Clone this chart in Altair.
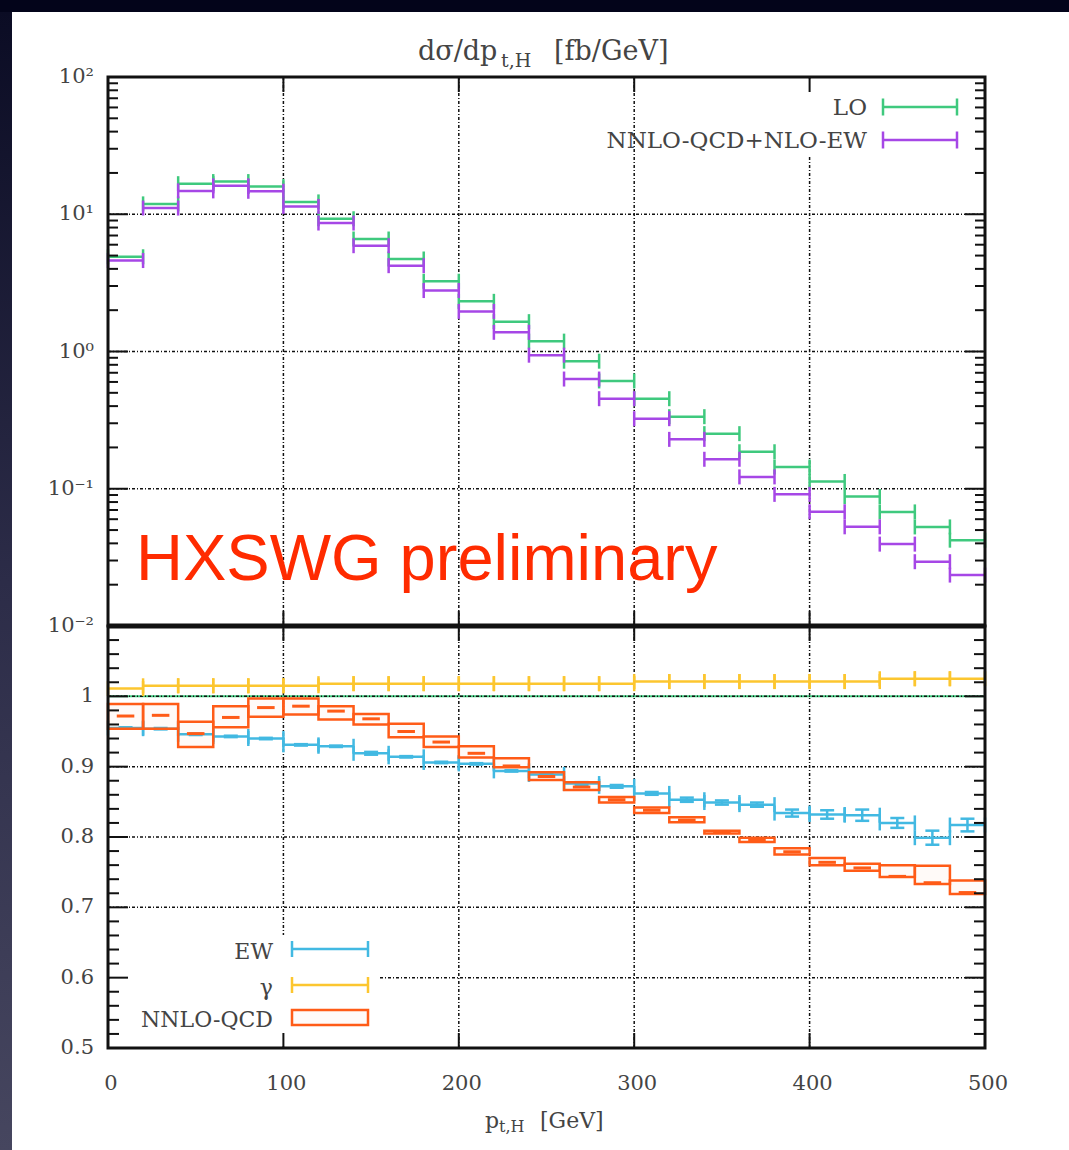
import altair as alt
import pandas as pd

# ---------------- data ----------------
bin_lo = [0, 20, 40, 60, 80, 100, 120, 140, 160, 180, 200, 220, 240,
          260, 280, 300, 320, 340, 360, 380, 400, 420, 440, 460, 480]
bin_hi = [20, 40, 60, 80, 100, 120, 140, 160, 180, 200, 220, 240, 260,
          280, 300, 320, 340, 360, 380, 400, 420, 440, 460, 480, 500]

lo_xs = [4.9, 11.9, 16.7, 17.3, 15.9, 12.3, 9.27, 6.6, 4.72, 3.25, 2.32, 1.65, 1.19,
         0.85, 0.61, 0.453, 0.335, 0.252, 0.186, 0.144, 0.113, 0.0877, 0.0678, 0.0527, 0.0422]
nnlo_xs = [4.6, 11.1, 14.8, 16.1, 14.7, 11.4, 8.63, 5.9, 4.22, 2.78, 1.96, 1.38, 0.94,
           0.63, 0.453, 0.324, 0.229, 0.164, 0.122, 0.091, 0.068, 0.0528, 0.0395, 0.0294, 0.0235]

ew_ratio = [0.955, 0.954, 0.946, 0.943, 0.940, 0.931, 0.929, 0.919, 0.914, 0.906, 0.904, 0.894, 0.889,
            0.876, 0.872, 0.862, 0.853, 0.849, 0.846, 0.834, 0.832, 0.831, 0.820, 0.799, 0.817]
ew_err = [0.001, 0.001, 0.001, 0.001, 0.001, 0.001, 0.001, 0.002, 0.001, 0.001, 0.001, 0.001, 0.002,
          0.002, 0.002, 0.002, 0.003, 0.003, 0.003, 0.005, 0.006, 0.008, 0.007, 0.010, 0.009]
gamma_ratio = [1.011, 1.015, 1.015, 1.015, 1.015, 1.015, 1.018, 1.018, 1.018, 1.018, 1.018, 1.018, 1.018,
               1.018, 1.018, 1.021, 1.021, 1.021, 1.021, 1.021, 1.021, 1.021, 1.025, 1.025, 1.025]
qcd_low = [0.954, 0.954, 0.928, 0.956, 0.971, 0.974, 0.967, 0.960, 0.942, 0.928, 0.913, 0.899, 0.881,
           0.867, 0.849, 0.834, 0.821, 0.805, 0.793, 0.775, 0.760, 0.752, 0.743, 0.733, 0.719]
qcd_high = [0.989, 0.989, 0.964, 0.986, 0.997, 0.997, 0.986, 0.975, 0.961, 0.943, 0.929, 0.912, 0.892,
            0.878, 0.857, 0.842, 0.828, 0.809, 0.799, 0.784, 0.770, 0.762, 0.760, 0.759, 0.738]
qcd_central = [0.972, 0.973, 0.947, 0.970, 0.984, 0.986, 0.979, 0.968, 0.950, 0.935, 0.919, 0.901, 0.886,
               0.871, 0.853, 0.838, 0.824, 0.807, 0.796, 0.779, 0.764, 0.756, 0.744, 0.735, 0.721]

x_ticks = [0, 100, 200, 300, 400, 500]
x_tick_labels = ["0", "100", "200", "300", "400", "500"]
top_tick_vals = [0.01, 0.1, 1, 10, 100]
top_tick_labels = ["10\u207b\u00b2", "10\u207b\u00b9", "10\u2070", "10\u00b9", "10\u00b2"]
bot_tick_vals = [0.5, 0.6, 0.7, 0.8, 0.9, 1.0]
bot_tick_labels = ["0.5", "0.6", "0.7", "0.8", "0.9", "1"]

# ---------------- style ----------------
W, H, HT = 877, 971, 549
GREEN, PURPLE = "#3fc97e", "#a647e6"
CYAN, YELLOW, ORANGE = "#42b9e2", "#fcc62f", "#ff5b17"
RED, TXT, INK = "#ff2b00", "#444444", "#111111"
FONT = "DejaVu Serif"
LW = 2.5
GRID = dict(color=INK, strokeWidth=1.5, strokeDash=[3, 2, 1, 2])

xs = alt.Scale(domain=[0, 500], nice=False, zero=False)
yt = alt.Scale(type="log", domain=[0.01, 100], range=[HT, 0], nice=False)
yb = alt.Scale(domain=[0.5, 1.1], range=[H, HT], nice=False, zero=False)


def X(f):
    return alt.X(f, type="quantitative", scale=xs, axis=None)


def YT(f):
    return alt.Y(f, type="quantitative", scale=yt, axis=None)


def YB(f):
    return alt.Y(f, type="quantitative", scale=yb, axis=None)


df = pd.DataFrame({
    "lo": bin_lo, "hi": bin_hi, "LO": lo_xs, "NNLO": nnlo_xs,
    "ew": ew_ratio, "ew_err": ew_err, "gam": gamma_ratio,
    "qlo": qcd_low, "qhi": qcd_high, "qc": qcd_central,
})
base = alt.Chart(df).transform_calculate(
    mid="(datum.lo + datum.hi) / 2",
    cl="(datum.lo + datum.hi) / 2 - 5",
    cr="(datum.lo + datum.hi) / 2 + 5",
    ew_dn="datum.ew - datum.ew_err",
    ew_up="datum.ew + datum.ew_err",
)
one = alt.Chart(pd.DataFrame({"k": [0]}))

layers = []

# page frame (dark border + white sheet)
layers.append(one.mark_rect(color=alt.Gradient(
    gradient="linear",
    stops=[alt.GradientStop(color="#0b0c24", offset=0),
           alt.GradientStop(color="#2c2c48", offset=0.5),
           alt.GradientStop(color="#46465f", offset=1)],
    x1=0, x2=0, y1=0, y2=1)).encode(
    x=alt.value(-108), x2=alt.value(-96), y=alt.value(-65), y2=alt.value(1073)))
layers.append(one.mark_rect(color="white").encode(
    x=alt.value(-96), x2=alt.value(961), y=alt.value(-65), y2=alt.value(1073)))

# grid
layers.append(alt.Chart(pd.DataFrame({"v": [100, 200, 300, 400]})).mark_rule(**GRID).encode(
    x=X("v"), y=alt.value(0), y2=alt.value(H)))
layers.append(alt.Chart(pd.DataFrame({"v": [0.1, 1, 10]})).mark_rule(**GRID).encode(
    y=YT("v"), x=alt.value(0), x2=alt.value(W)))
layers.append(alt.Chart(pd.DataFrame({"v": [1.0]})).mark_rule(color=GREEN, strokeWidth=2).encode(
    y=YB("v"), x=alt.value(0), x2=alt.value(W)))
layers.append(alt.Chart(pd.DataFrame({"v": [0.6, 0.7, 0.8, 0.9, 1.0]})).mark_rule(**GRID).encode(
    y=YB("v"), x=alt.value(0), x2=alt.value(W)))

# legend masks
layers.append(one.mark_rect(color="white").encode(
    x=alt.value(542), x2=alt.value(868), y=alt.value(2), y2=alt.value(78)))
layers.append(one.mark_rect(color="white").encode(
    x=alt.value(2), x2=alt.value(272), y=alt.value(858), y2=alt.value(969)))


def steps(field, color, yenc, cap):
    out = [base.mark_rule(color=color, strokeWidth=LW).encode(x=X("lo"), x2=alt.X2("hi"), y=yenc(field))]
    for edge in ("lo", "hi"):
        out.append(base.mark_tick(color=color, orient="vertical", size=cap, thickness=LW, opacity=1).encode(
            x=X(edge), y=yenc(field)))
    return out


# top panel data
layers += steps("LO", GREEN, YT, 15)
layers += steps("NNLO", PURPLE, YT, 15)

# bottom panel data
layers += steps("ew", CYAN, YB, 15)
layers.append(base.mark_rule(color=CYAN, strokeWidth=LW).encode(x=X("mid"), y=YB("ew_dn"), y2=alt.Y2("ew_up")))
for f in ("ew_dn", "ew_up"):
    layers.append(base.mark_tick(color=CYAN, orient="horizontal", size=14, thickness=LW, opacity=1).encode(
        x=X("mid"), y=YB(f)))
layers += steps("gam", YELLOW, YB, 15)
layers.append(base.mark_rect(fill=ORANGE, fillOpacity=0.03, stroke=ORANGE, strokeWidth=LW).encode(
    x=X("lo"), x2=alt.X2("hi"), y=YB("qlo"), y2=alt.Y2("qhi")))
layers.append(base.mark_rule(color=ORANGE, strokeWidth=3).encode(x=X("cl"), x2=alt.X2("cr"), y=YB("qc")))

# ticks (inward)
top_minor = [m * 10.0 ** e for e in (-2, -1, 0, 1) for m in range(2, 10)]
bot_major = [0.5, 0.6, 0.7, 0.8, 0.9, 1.0, 1.1]
bot_minor = [0.52, 0.54, 0.56, 0.58, 0.62, 0.64, 0.66, 0.68, 0.72, 0.74, 0.76, 0.78,
             0.82, 0.84, 0.86, 0.88, 0.92, 0.94, 0.96, 0.98, 1.02, 1.04, 1.06, 1.08]
for vals, enc, ln in ((top_tick_vals, YT, 20), (top_minor, YT, 10), (bot_major, YB, 20), (bot_minor, YB, 11)):
    d = alt.Chart(pd.DataFrame({"v": vals}))
    layers.append(d.mark_rule(color=INK, strokeWidth=2).encode(y=enc("v"), x=alt.value(0), x2=alt.value(ln)))
    layers.append(d.mark_rule(color=INK, strokeWidth=2).encode(y=enc("v"), x=alt.value(W - ln), x2=alt.value(W)))
dx = alt.Chart(pd.DataFrame({"v": [100, 200, 300, 400]}))
for y0, y1 in ((0, 15), (HT - 15, HT + 15), (H - 15, H)):
    layers.append(dx.mark_rule(color=INK, strokeWidth=2).encode(x=X("v"), y=alt.value(y0), y2=alt.value(y1)))

# frames
for y0, y1 in ((0, HT), (HT, H)):
    layers.append(one.mark_rect(fill="transparent", stroke=INK, strokeWidth=3).encode(
        x=alt.value(0), x2=alt.value(W), y=alt.value(y0), y2=alt.value(y1)))
layers.append(one.mark_rule(color=INK, strokeWidth=5).encode(
    x=alt.value(0), x2=alt.value(W), y=alt.value(HT)))

# tick labels
LBL = dict(font=FONT, fontSize=21, color=TXT)
layers.append(alt.Chart(pd.DataFrame({"v": top_tick_vals, "t": top_tick_labels})).mark_text(
    align="right", baseline="middle", **LBL).encode(y=YT("v"), x=alt.value(-14), text="t:N"))
layers.append(alt.Chart(pd.DataFrame({"v": bot_tick_vals, "t": bot_tick_labels})).mark_text(
    align="right", baseline="middle", **LBL).encode(y=YB("v"), x=alt.value(-14), text="t:N"))
layers.append(alt.Chart(pd.DataFrame({"v": x_ticks, "t": x_tick_labels})).mark_text(
    align="center", baseline="middle", dx=3, **LBL).encode(x=X("v"), y=alt.value(H + 36), text="t:N"))


# titles
def txt(s, x, y, size, color=TXT, font=FONT, align="left", baseline="alphabetic"):
    return one.mark_text(text=s, font=font, fontSize=size, color=color, align=align,
                         baseline=baseline).encode(x=alt.value(x), y=alt.value(y))


layers += [
    txt("d\u03c3/dp", 310, -17, 27), txt("t,H", 393, -10, 19), txt("[fb/GeV]", 446, -17, 27),
    txt("p", 377, 1051, 22), txt("t,H", 391, 1055, 16), txt("[GeV]", 432, 1051, 22),
]

# top legend
for lab, col, yy in (("LO", GREEN, 30), ("NNLO-QCD+NLO-EW", PURPLE, 63)):
    layers.append(txt(lab, 759, yy + 1, 23, align="right", baseline="middle"))
    layers.append(one.mark_rule(color=col, strokeWidth=LW).encode(x=alt.value(775), x2=alt.value(849), y=alt.value(yy)))
    for xx in (775, 849):
        layers.append(one.mark_rule(color=col, strokeWidth=LW).encode(
            x=alt.value(xx), y=alt.value(yy - 8.5), y2=alt.value(yy + 8.5)))

# bottom legend
for lab, col, yy in (("EW", CYAN, 872), ("\u03b3", YELLOW, 908)):
    layers.append(txt(lab, 165, yy + 3, 22, align="right", baseline="middle"))
    layers.append(one.mark_rule(color=col, strokeWidth=LW).encode(x=alt.value(184), x2=alt.value(260), y=alt.value(yy)))
    for xx in (184, 260):
        layers.append(one.mark_rule(color=col, strokeWidth=LW).encode(
            x=alt.value(xx), y=alt.value(yy - 8), y2=alt.value(yy + 8)))
layers.append(txt("NNLO-QCD", 165, 943, 22, align="right", baseline="middle"))
layers.append(one.mark_rect(fill=ORANGE, fillOpacity=0.03, stroke=ORANGE, strokeWidth=LW).encode(
    x=alt.value(184), x2=alt.value(260), y=alt.value(933), y2=alt.value(948)))

# watermark
layers.append(txt("HXSWG preliminary", 28, 503, 65, color=RED, font="Liberation Sans"))

chart = alt.layer(*layers).resolve_scale(y="independent").properties(
    width=W, height=H,
    padding={"left": 108, "top": 77, "right": 84, "bottom": 102},
    autosize=alt.AutoSizeParams(type="none"),
    background="#03041a",
).configure_view(strokeWidth=0)

chart.save("out.html", embed_options={"renderer": "svg", "actions": False})
